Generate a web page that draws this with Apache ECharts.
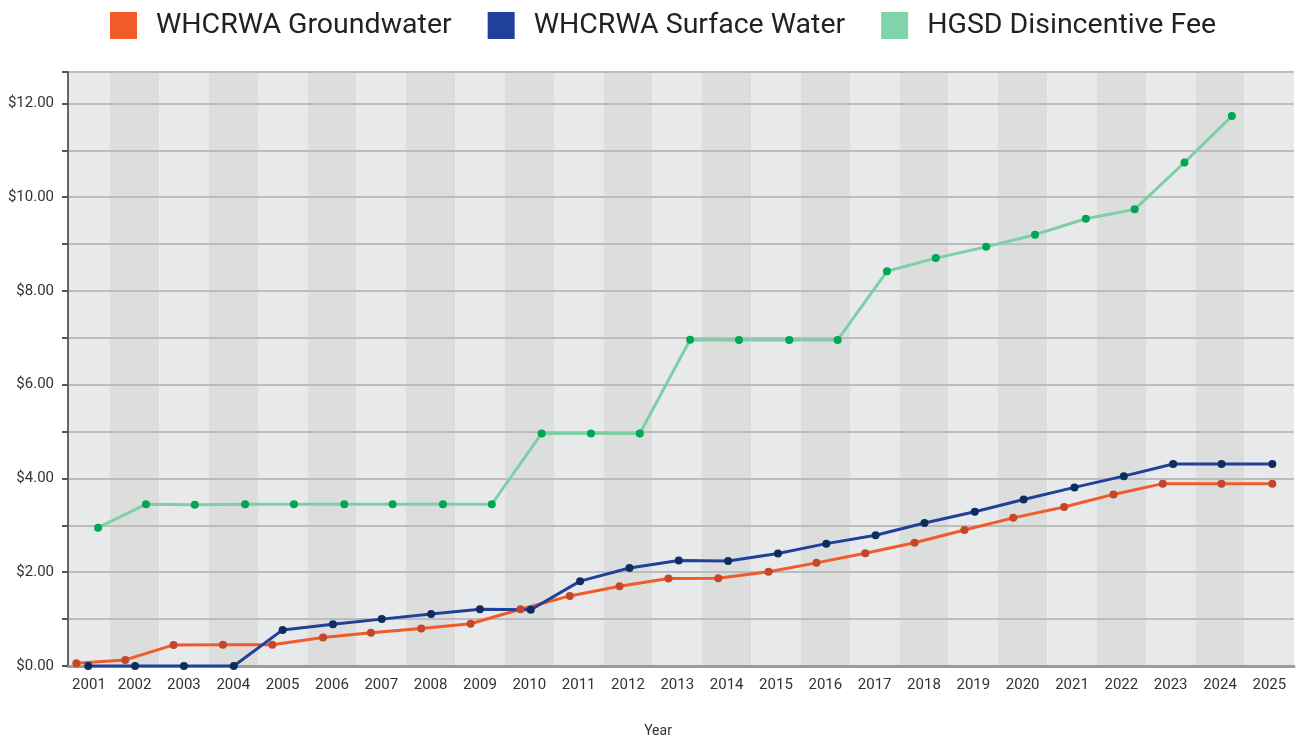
<!DOCTYPE html>
<html>
<head>
<meta charset="utf-8">
<title>Water rates</title>
<script src="https://cdn.jsdelivr.net/npm/echarts@6/dist/echarts.min.js"></script>
<style>
html, body { margin: 0; padding: 0; background: #fff; }
#chart { width: 1296px; height: 738px; }
</style>
</head>
<body>
<div id="chart"></div>
<script>
// years shown on the axis (one band each)
var years = [2001, 2002, 2003, 2004, 2005, 2006, 2007, 2008, 2009, 2010, 2011, 2012, 2013,
	2014, 2015, 2016, 2017, 2018, 2019, 2020, 2021, 2022, 2023, 2024, 2025];

// WHCRWA Groundwater: date (fractional year) and rate
var gwDate = [2001.32, 2002.31, 2003.29, 2004.29, 2005.29, 2006.32, 2007.29, 2008.31, 2009.31, 2010.32,
	2011.32, 2012.33, 2013.32, 2014.33, 2015.35, 2016.32, 2017.31, 2018.31, 2019.32, 2020.31,
	2021.34, 2022.34, 2023.34, 2024.53, 2025.56];
var gwRate = [0.06, 0.13, 0.45, 0.455, 0.455, 0.61, 0.71, 0.80, 0.90, 1.21,
	1.495, 1.70, 1.865, 1.87, 2.01, 2.20, 2.405, 2.63, 2.90, 3.16,
	3.39, 3.66, 3.89, 3.89, 3.89];

// WHCRWA Surface Water
var swDate = [2001.56, 2002.51, 2003.50, 2004.51, 2005.50, 2006.52, 2007.51, 2008.51, 2009.50, 2010.53,
	2011.53, 2012.53, 2013.53, 2014.53, 2015.54, 2016.52, 2017.52, 2018.51, 2019.53, 2020.52,
	2021.55, 2022.55, 2023.55, 2024.53, 2025.56];
var swRate = [0, 0, 0, 0, 0.77, 0.89, 1.00, 1.11, 1.21, 1.20,
	1.81, 2.09, 2.25, 2.24, 2.40, 2.61, 2.79, 3.05, 3.29, 3.55,
	3.81, 4.05, 4.31, 4.31, 4.31];

// HGSD Disincentive Fee
var feeDate = [2001.76, 2002.73, 2003.72, 2004.74, 2005.73, 2006.75, 2007.73, 2008.75, 2009.74, 2010.75,
	2011.75, 2012.74, 2013.76, 2014.75, 2015.77, 2016.75, 2017.75, 2018.74, 2019.76, 2020.75,
	2021.78, 2022.77, 2023.78, 2024.74];
var feeRate = [2.95, 3.45, 3.44, 3.45, 3.45, 3.45, 3.45, 3.45, 3.45, 4.96,
	4.96, 4.96, 6.96, 6.955, 6.955, 6.955, 8.42, 8.70, 8.94, 9.20,
	9.54, 9.74, 10.74, 11.73];

var seriesNames = ['WHCRWA Groundwater', 'WHCRWA Surface Water', 'HGSD Disincentive Fee'];

var xMin = 2001.15;
var xMax = 2026;

function pairs(xs, ys) {
	var out = [];
	for (var i = 0; i < xs.length; i++) {
		out.push([xs[i], ys[i]]);
	}
	return out;
}

// alternating year bands behind the plot, label in the middle of the visible part
var bands = [];
var labelAt = [];
for (var i = 0; i < years.length; i++) {
	var from = Math.max(years[i], xMin);
	var to = Math.min(years[i] + 1, xMax);
	bands.push([
		{ xAxis: from, itemStyle: { color: i % 2 ? '#dcdddd' : '#e8e9ea' } },
		{ xAxis: to }
	]);
	labelAt.push((from + to) / 2);
}

function lineSeries(name, data, lineColor, dotColor) {
	return {
		name: name,
		type: 'line',
		z: 3,
		data: data,
		symbol: 'circle',
		symbolSize: 8,
		showSymbol: true,
		lineStyle: { color: lineColor, width: 3 },
		itemStyle: { color: dotColor, borderWidth: 0 },
		emphasis: { disabled: true }
	};
}

var myChart = echarts.init(document.getElementById('chart'));
var option = {
	animation: false,
	backgroundColor: '#ffffff',
	textStyle: { fontFamily: 'Roboto' },
	legend: {
		top: 11,
		left: 110,
		padding: 0,
		itemWidth: 27,
		itemHeight: 27,
		itemGap: 36,
		icon: 'rect',
		textStyle: {
			fontSize: 28.5,
			color: '#222',
			fontFamily: 'Roboto',
			padding: [0, 0, 0, 14]
		},
		data: [
			{ name: seriesNames[0], itemStyle: { color: '#f15a29' } },
			{ name: seriesNames[1], itemStyle: { color: '#21409a' } },
			{ name: seriesNames[2], itemStyle: { color: '#80d4a9' } }
		]
	},
	grid: {
		left: 68,
		right: 2,
		top: 72,
		bottom: 72,
		outerBoundsMode: 'none'
	},
	xAxis: {
		type: 'value',
		min: xMin,
		max: xMax,
		z: 2,
		name: 'Year',
		nameLocation: 'middle',
		nameGap: 58,
		nameTextStyle: { fontSize: 14, color: '#333', padding: [0, 46, 0, 0] },
		axisLine: { show: true, lineStyle: { color: '#9b9b9b', width: 3 } },
		axisTick: { show: false },
		splitLine: { show: false },
		axisLabel: {
			customValues: labelAt,
			formatter: function (v) { return String(Math.floor(v)); },
			fontSize: 15,
			color: '#333',
			margin: 12
		}
	},
	yAxis: {
		type: 'value',
		min: 0,
		max: 12.67,
		interval: 1,
		z: 2,
		axisLine: { show: true, lineStyle: { color: '#666', width: 2 } },
		axisTick: { show: true, length: 6, lineStyle: { color: '#555', width: 2 } },
		splitLine: { show: true, lineStyle: { color: '#bcbcbc', width: 2 } },
		axisLabel: {
			fontSize: 15,
			color: '#333',
			margin: 14,
			formatter: function (v) {
				if (v % 2 === 0 && v <= 12) {
					return '$' + v.toFixed(2);
				}
				return '';
			}
		}
	},
	series: [
		{
			name: 'bands',
			type: 'line',
			z: 0,
			data: [],
			silent: true,
			markArea: { silent: true, z: 0, data: bands }
		},
		lineSeries(seriesNames[0], pairs(gwDate, gwRate), '#f15a29', '#c4472a'),
		lineSeries(seriesNames[1], pairs(swDate, swRate), '#21409a', '#0c2d5e'),
		lineSeries(seriesNames[2], pairs(feeDate, feeRate), '#7dd0a5', '#00a651')
	]
};
myChart.setOption(option);
</script>
</body>
</html>
